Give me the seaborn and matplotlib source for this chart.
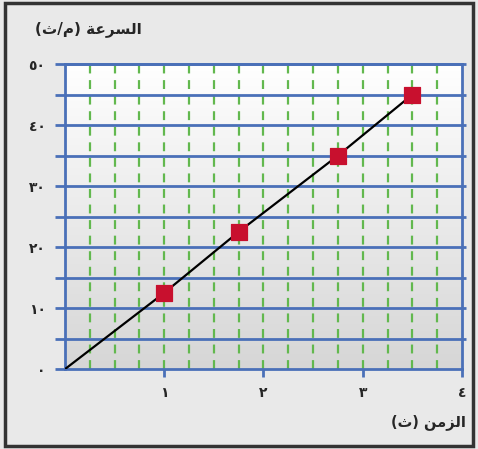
import numpy as np
import pandas as pd
import matplotlib
matplotlib.use('Agg')
import matplotlib.pyplot as plt
import seaborn as sns
from matplotlib.patches import Rectangle
from matplotlib.colors import LinearSegmentedColormap

# data
time_s = [0, 1, 1.75, 2.75, 3.5]
speed = [0, 12.5, 22.5, 35, 45]
x_ticks = [1, 2, 3, 4]
x_labels = ['١', '٢', '٣', '٤']
y_ticks = [0, 10, 20, 30, 40, 50]
y_labels = ['٠', '١٠', '٢٠', '٣٠', '٤٠', '٥٠']
# Arabic labels, pre-shaped for display (matplotlib has no bidi/shaping)
y_title = '(\uFE99/\uFEE1) \uFE94\uFECB\uFEAE\uFEB4\uFEDF\uFE8D'   # السرعة (م/ث)
x_title = '(\uFE99) \uFEE6\uFEE3\uFEB0\uFEDF\uFE8D'                 # الزمن (ث)

sns.set_style('white')
plt.rcParams['font.family'] = ['DejaVu Sans']

blue = '#4a70b8'
green = '#62b84e'

fig = plt.figure(figsize=(4.78, 4.49), dpi=100, facecolor='#e9e9e9')
ax = fig.add_axes([0.136, 0.178, 0.8305, 0.6793])
ax.set_xlim(0, 4)
ax.set_ylim(0, 50)

# background gradient, white at the top to light grey at the bottom
bg = LinearSegmentedColormap.from_list('bg', ['#d6d6d6', '#ffffff'])
grad = np.linspace(1, 0, 256).reshape(-1, 1)
ax.imshow(grad, extent=[0, 4, 0, 50], aspect='auto', cmap=bg,
          vmin=0, vmax=1, zorder=0, origin='upper')

# green dashed verticals every 0.25
for xv in np.arange(0.25, 4, 0.25):
    ax.axvline(xv, color=green, lw=1.6, ls=(0, (4, 3)), zorder=1)
# blue horizontals every 5, sticking out on the right
ax.hlines(np.arange(5, 51, 5), 0, 4.04, color=blue, lw=2, zorder=2, clip_on=False)

df = pd.DataFrame({'t': time_s, 'v': speed})
sns.lineplot(data=df, x='t', y='v', color='black', lw=1.6, ax=ax, zorder=3)
sns.scatterplot(data=df.iloc[1:], x='t', y='v', marker='s', s=120,
                color='#c8102e', edgecolor='#c8102e', ax=ax, zorder=4)

for s in ax.spines.values():
    s.set_color(blue)
    s.set_linewidth(2)
    s.set_visible(True)

ax.set_yticks(np.arange(0, 51, 5))
ax.set_yticklabels([y_labels[y_ticks.index(v)] if v in y_ticks else '' for v in range(0, 51, 5)])
ax.set_xticks(x_ticks)
ax.set_xticklabels(x_labels)
ax.tick_params(axis='y', left=True, length=7, width=2, color=blue, pad=7,
               labelsize=10)
ax.tick_params(axis='x', bottom=True, length=6, width=2, color=blue, pad=6,
               labelsize=10)
for lab in ax.get_xticklabels() + ax.get_yticklabels():
    lab.set_fontweight('bold')
ax.set_xlabel('')
ax.set_ylabel('')

fig.text(0.185, 0.935, y_title, fontsize=11, fontweight='bold', ha='center', va='center')
fig.text(0.897, 0.06, x_title, fontsize=10.5, fontweight='bold', ha='center', va='center')

# outer frame
fig.patches.append(Rectangle((0.011, 0.006), 0.978, 0.988, transform=fig.transFigure,
                             fill=False, edgecolor='#333333', lw=2.5))

fig.savefig('out.png', dpi=100, facecolor=fig.get_facecolor())
